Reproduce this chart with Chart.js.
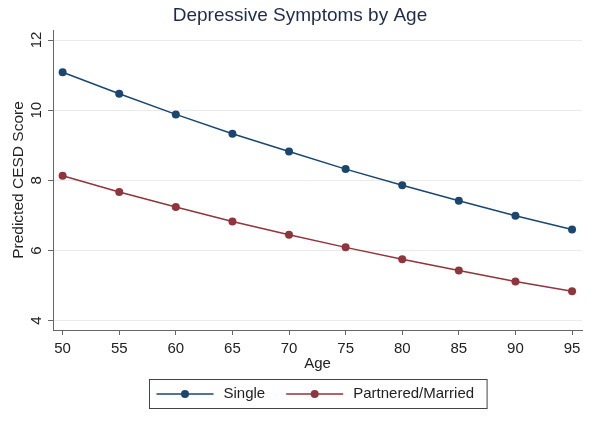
<!DOCTYPE html>
<html>
<head>
<meta charset="utf-8">
<script src="https://cdn.jsdelivr.net/npm/chart.js@4.4.1/dist/chart.umd.min.js"></script>
<style>
  html, body { margin: 0; padding: 0; background: #fff; }
  #wrap { width: 600px; height: 421px; }
</style>
</head>
<body>
<div id="wrap"><canvas id="cesd-chart"></canvas></div>
<script>
var ages = [50, 55, 60, 65, 70, 75, 80, 85, 90, 95];
var single = [11.08, 10.47, 9.88, 9.33, 8.82, 8.32, 7.86, 7.42, 6.99, 6.60];
var partnered = [8.13, 7.67, 7.24, 6.83, 6.45, 6.09, 5.75, 5.43, 5.12, 4.84];
var yTicks = [4, 6, 8, 10, 12];
var seriesNames = ['Single', 'Partnered/Married'];
var seriesColors = ['#1a476f', '#90353b'];

var FONT = '"Liberation Sans", Arial, sans-serif';
Chart.defaults.font.family = FONT;
Chart.defaults.color = '#222';

function toPoints(values) {
    return ages.map(function(a, i) { return { x: a, y: values[i] }; });
}

// y tick labels are vertical in the original, and the legend sits in a box
var stataBits = {
    id: 'stataBits',
    afterDraw: function(chart) {
        var ctx = chart.ctx;
        var yScale = chart.scales.y;
        var area = chart.chartArea;
        ctx.save();
        ctx.fillStyle = '#222';
        ctx.font = '15px ' + FONT;
        ctx.textAlign = 'center';
        ctx.textBaseline = 'middle';
        yTicks.forEach(function(v) {
            var py = yScale.getPixelForValue(v);
            ctx.save();
            ctx.translate(37, py);
            ctx.rotate(-Math.PI / 2);
            ctx.fillText(String(v), 0, 0);
            ctx.restore();
        });

        // legend
        var symW = 57, gapText = 10, gapItem = 21, padL = 7, padR = 13;
        var boxTop = 379, boxH = 29;
        var widths = chart.data.datasets.map(function(ds) { return ctx.measureText(ds.label).width; });
        var boxW = padL + padR;
        widths.forEach(function(w, i) {
            boxW += symW + gapText + w + (i > 0 ? gapItem : 0);
        });
        var boxLeft = Math.round((area.left + area.right) / 2 - boxW / 2) + 0.5;
        ctx.strokeStyle = '#444';
        ctx.lineWidth = 1;
        ctx.strokeRect(boxLeft, boxTop + 0.5, boxW, boxH);
        var cy = boxTop + boxH / 2 + 0.5;
        var x = boxLeft + padL;
        ctx.textAlign = 'left';
        chart.data.datasets.forEach(function(ds, i) {
            if (i > 0) x += gapItem;
            ctx.strokeStyle = ds.borderColor;
            ctx.lineWidth = 1.5;
            ctx.beginPath();
            ctx.moveTo(x, cy);
            ctx.lineTo(x + symW, cy);
            ctx.stroke();
            ctx.fillStyle = ds.backgroundColor;
            ctx.beginPath();
            ctx.arc(x + symW / 2, cy, 4, 0, Math.PI * 2);
            ctx.fill();
            x += symW + gapText;
            ctx.fillStyle = '#222';
            ctx.fillText(ds.label, x, cy);
            x += widths[i];
        });
        ctx.restore();
    }
};

var cesdCanvas = document.getElementById('cesd-chart').getContext('2d');
var cesdChart = new Chart(cesdCanvas, {
    type: 'line',
    data: {
        datasets: [{
            label: seriesNames[0],
            data: toPoints(single),
            borderColor: seriesColors[0],
            backgroundColor: seriesColors[0],
            pointBackgroundColor: seriesColors[0],
            borderWidth: 1.5,
            pointRadius: 4,
            pointBorderWidth: 0,
            tension: 0
        }, {
            label: seriesNames[1],
            data: toPoints(partnered),
            borderColor: seriesColors[1],
            backgroundColor: seriesColors[1],
            pointBackgroundColor: seriesColors[1],
            borderWidth: 1.5,
            pointRadius: 4,
            pointBorderWidth: 0,
            tension: 0
        }]
    },
    options: {
        responsive: true,
        maintainAspectRatio: false,
        animation: false,
        layout: {
            padding: { top: 0, right: 0, bottom: 46, left: 0 }
        },
        plugins: {
            legend: { display: false },
            tooltip: { enabled: false },
            title: {
                display: true,
                text: 'Depressive Symptoms by Age',
                color: '#1e2c4a',
                font: { size: 19, weight: 'normal' },
                padding: { top: 4, bottom: 3.2 }
            }
        },
        scales: {
            x: {
                type: 'linear',
                min: 49.15,
                max: 95.88,
                afterBuildTicks: function(scale) {
                    scale.ticks = ages.map(function(v) { return { value: v }; });
                },
                afterFit: function(scale) { scale.height = 45; },
                ticks: {
                    font: { size: 15 },
                    color: '#222',
                    padding: 5,
                    maxRotation: 0,
                    autoSkip: false
                },
                grid: {
                    drawOnChartArea: false,
                    tickLength: 5,
                    tickColor: '#666'
                },
                border: { color: '#666', width: 1 },
                title: {
                    display: true,
                    text: 'Age',
                    font: { size: 15 },
                    color: '#222',
                    padding: { top: 0, bottom: 2 }
                }
            },
            y: {
                min: 3.735,
                max: 12.285,
                afterBuildTicks: function(scale) {
                    scale.ticks = yTicks.map(function(v) { return { value: v }; });
                },
                afterFit: function(scale) { scale.width = 53; },
                ticks: { display: false },
                grid: {
                    color: '#ebebeb',
                    tickLength: 5,
                    tickColor: '#666'
                },
                border: { color: '#666', width: 1 },
                title: {
                    display: true,
                    text: 'Predicted CESD Score',
                    font: { size: 15.5 },
                    color: '#222',
                    padding: { top: 9.5, bottom: 0 }
                }
            },
            // empty right-hand margin so the title centres on the whole picture
            yRight: {
                position: 'right',
                display: true,
                afterFit: function(scale) { scale.width = 18; },
                ticks: { display: false },
                grid: { display: false, drawTicks: false },
                border: { display: false }
            }
        }
    },
    plugins: [stataBits]
});
</script>
</body>
</html>
